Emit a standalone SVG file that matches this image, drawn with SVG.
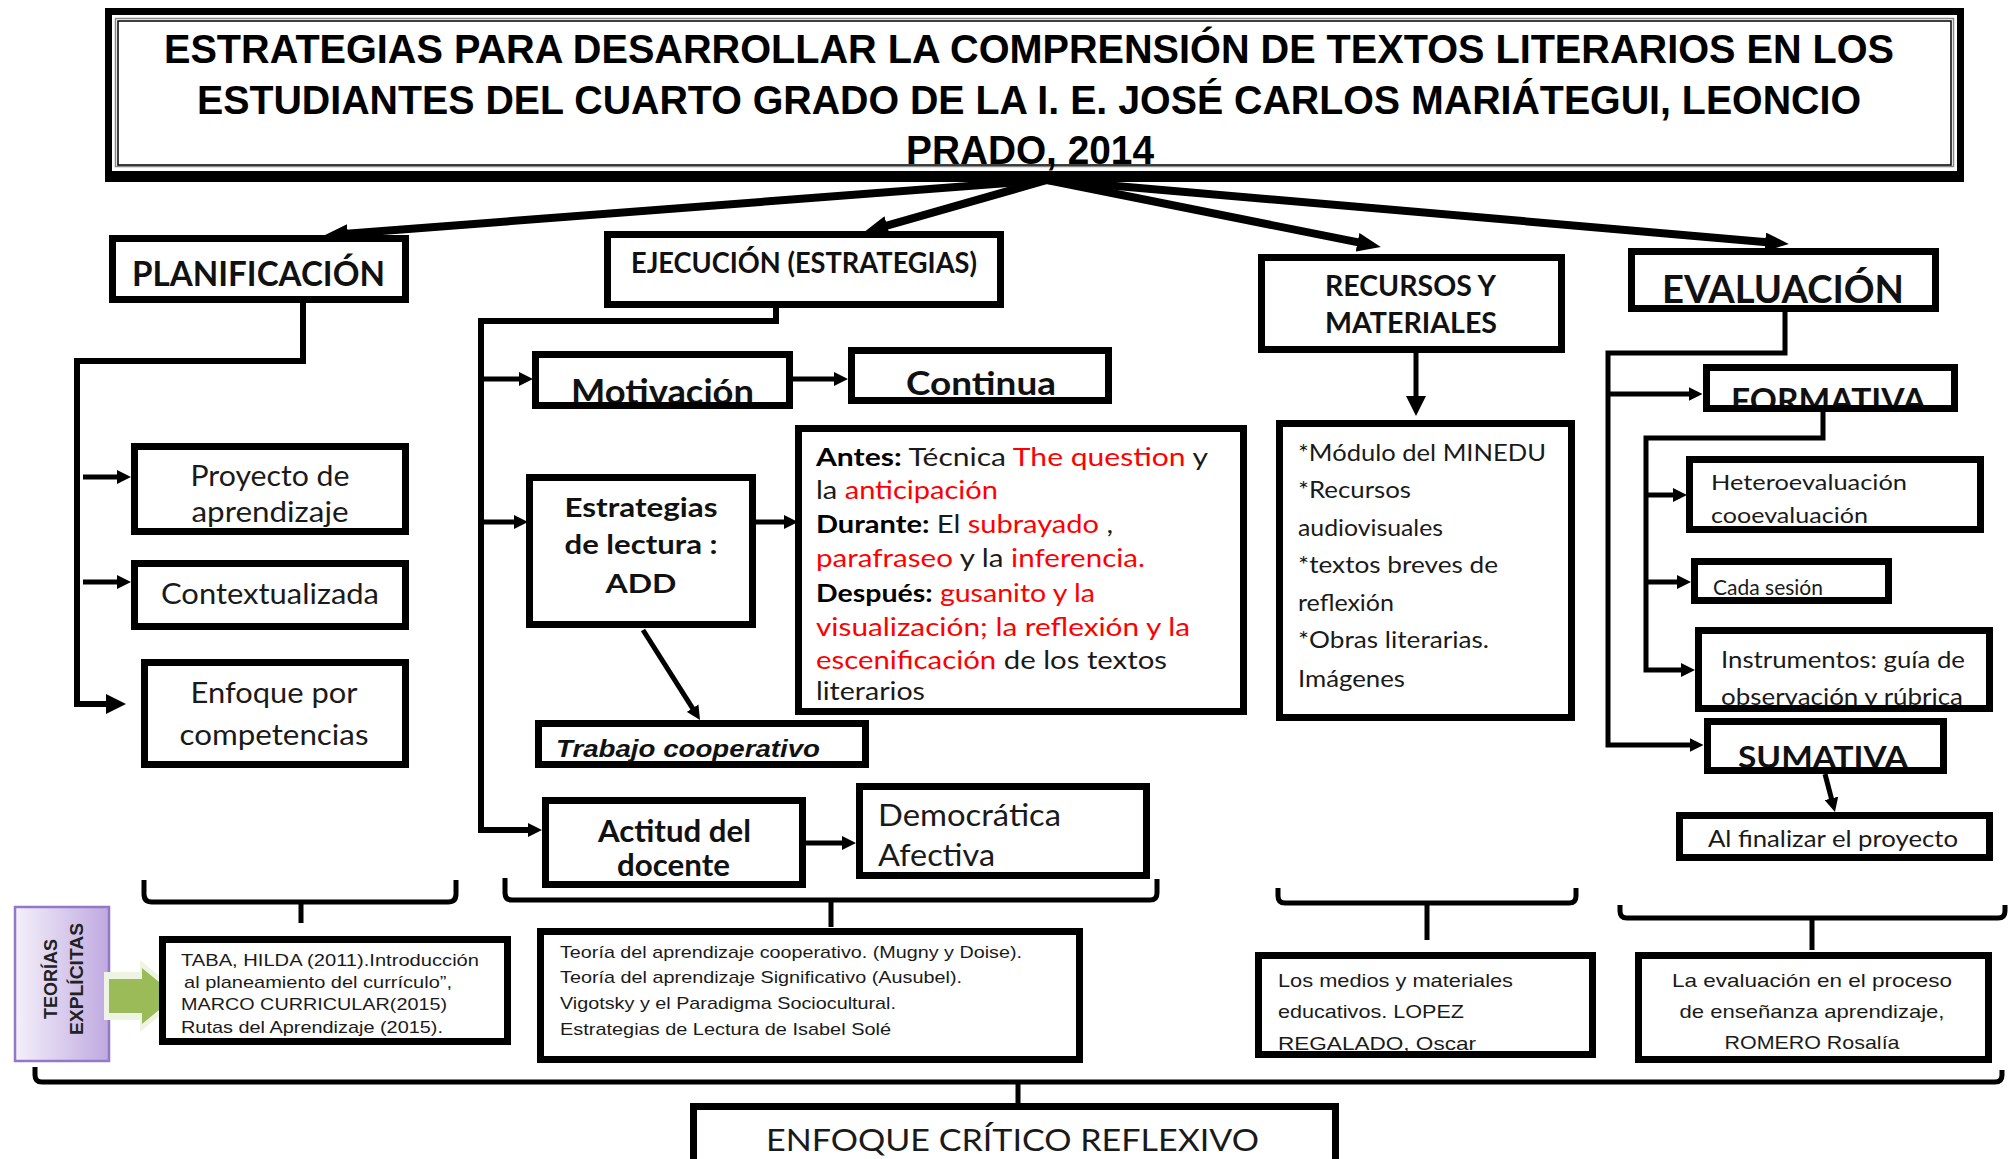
<svg xmlns="http://www.w3.org/2000/svg" width="2015" height="1159" viewBox="0 0 2015 1159">
<defs>
<style>
.bx{fill:#fff;stroke:#000;stroke-width:7}
.ol{fill:none;stroke:#000;stroke-width:7}
.ln{fill:none;stroke:#000;stroke-width:5}
.lt{fill:none;stroke:#000;stroke-width:8}
.br{fill:none;stroke:#000;stroke-width:5}
.ti{font-family:"Liberation Sans",Arial,sans-serif;font-weight:bold;font-size:40px;fill:#000}
.hb{font-family:Lato,"Open Sans",sans-serif;font-weight:bold;fill:#111}
.nr{font-family:Lato,"Open Sans",sans-serif;fill:#1a1a1a}
.sm{font-family:"Liberation Sans",Arial,sans-serif;font-size:17px;fill:#1a1a1a}
.md{font-family:"Liberation Sans",Arial,sans-serif;font-size:19px;fill:#1a1a1a}
.rd{fill:#ff0000}
.bk{font-weight:bold;fill:#000}
</style>
<marker id="ah" viewBox="0 0 12 12" refX="3" refY="6" markerWidth="14" markerHeight="14" markerUnits="userSpaceOnUse" orient="auto"><path d="M0,0 L12,6 L0,12 z"/></marker>
<marker id="ahL" viewBox="0 0 12 12" refX="3" refY="6" markerWidth="20" markerHeight="20" markerUnits="userSpaceOnUse" orient="auto"><path d="M0,0 L12,6 L0,12 z"/></marker>
<marker id="ahT" viewBox="0 0 20 16" refX="4" refY="8" markerWidth="24" markerHeight="19" markerUnits="userSpaceOnUse" orient="auto"><path d="M0,0 L20,8 L0,16 z"/></marker>
<linearGradient id="pg" x1="0" y1="0" x2="1" y2="0"><stop offset="0" stop-color="#f4f0fa"/><stop offset="1" stop-color="#bfa9e0"/></linearGradient>
</defs>

<g id="title">
<rect x="105" y="8" width="1859" height="174" fill="#000"/>
<rect x="112" y="15" width="1845" height="156" fill="#fff"/>
<rect x="115.5" y="18.5" width="1838" height="148" fill="none" stroke="#888" stroke-width="1.5"/>
<rect x="118" y="21" width="1833" height="144" fill="none" stroke="#000" stroke-width="1.5"/>
<text class="ti" x="164" y="63" textLength="1730" lengthAdjust="spacingAndGlyphs">ESTRATEGIAS PARA DESARROLLAR LA  COMPRENSIÓN DE TEXTOS LITERARIOS EN LOS</text>
<text class="ti" x="197" y="114" textLength="1664" lengthAdjust="spacingAndGlyphs">ESTUDIANTES DEL CUARTO GRADO DE LA I.  E. JOSÉ CARLOS MARIÁTEGUI, LEONCIO</text>
<text class="ti" x="906" y="164" textLength="248" lengthAdjust="spacingAndGlyphs">PRADO, 2014</text>
</g>

<g id="connectors">
<line class="lt" x1="1047" y1="180" x2="343" y2="234" marker-end="url(#ahT)"/>
<line class="lt" x1="1047" y1="180" x2="882.5" y2="226.8" marker-end="url(#ahT)"/>
<line class="lt" x1="1047" y1="180" x2="1362.2" y2="243.2" marker-end="url(#ahT)"/>
<line class="lt" x1="1047" y1="180" x2="1769.9" y2="242.4" marker-end="url(#ahT)"/>
<path d="M303,303 V361 H77 V704 H111" fill="none" stroke="#000" stroke-width="6" marker-end="url(#ahL)"/>
<path class="ln" d="M83,477 H120.5" marker-end="url(#ah)"/>
<path class="ln" d="M83,582 H120.5" marker-end="url(#ah)"/>
<path d="M776,308 V321 H481 V830 H531.5" fill="none" stroke="#000" stroke-width="6" marker-end="url(#ah)"/>
<path class="ln" d="M481,379 H522.5" marker-end="url(#ah)"/>
<path class="ln" d="M481,522 H517.5" marker-end="url(#ah)"/>
<path class="ln" d="M793,379 H837.5" marker-end="url(#ah)"/>
<path class="ln" d="M756,522 H787.5" marker-end="url(#ah)"/>
<path class="ln" d="M806,843 H845.5" marker-end="url(#ah)"/>
<line class="ln" x1="643" y1="630" x2="694.4" y2="711.1" marker-end="url(#ah)"/>
<path class="ln" d="M1416,353 V401" marker-end="url(#ahL)"/>
<path d="M1785,312 V353 H1608 V745 H1693" fill="none" stroke="#000" stroke-width="5" marker-end="url(#ah)"/>
<path class="ln" d="M1608,394 H1692" marker-end="url(#ah)"/>
<path d="M1823,412 V438 H1646 V670 H1684.5" fill="none" stroke="#000" stroke-width="5" marker-end="url(#ah)"/>
<path class="ln" d="M1646,495 H1676.5" marker-end="url(#ah)"/>
<path class="ln" d="M1646,582 H1680.5" marker-end="url(#ah)"/>
<line class="ln" x1="1825" y1="774" x2="1832.3" y2="801.8" marker-end="url(#ah)"/>
<path class="br" d="M144,880 V894 Q144,902 152,902 H448 Q456,902 456,894 V880 M301,902 V923"/>
<path class="br" d="M505,878 V893 Q505,900 512,900 H1150 Q1157,900 1157,893 V879 M831,900 V927"/>
<path class="br" d="M1278,888 V896 Q1278,903 1285,903 H1569 Q1576,903 1576,896 V888 M1427,903 V940"/>
<path class="br" d="M1620,905 V911 Q1620,918 1627,918 H1998 Q2005,918 2005,911 V905 M1812,918 V950"/>
<path class="br" d="M35,1067 V1075 Q35,1082 42,1082 H1995 Q2002,1082 2002,1075 V1070 M1018,1082 V1112"/>
</g>

<g id="planificacion">
<rect class="bx" x="112.5" y="238.5" width="293" height="61"/>
<text class="hb" x="132" y="286" font-size="34" textLength="253" lengthAdjust="spacingAndGlyphs">PLANIFICACIÓN</text>
</g>
<g id="proyecto">
<rect class="bx" x="134.5" y="446.5" width="271" height="85"/>
<text class="nr" x="190.5" y="486" font-size="29" textLength="159" lengthAdjust="spacingAndGlyphs">Proyecto de</text>
<text class="nr" x="191.5" y="522" font-size="29" textLength="157" lengthAdjust="spacingAndGlyphs">aprendizaje</text>
</g>
<g id="contextualizada">
<rect class="bx" x="134.5" y="563.5" width="271" height="63"/>
<text class="nr" x="161" y="604" font-size="29" textLength="218" lengthAdjust="spacingAndGlyphs">Contextualizada</text>
</g>
<g id="enfoque-competencias">
<rect class="bx" x="144.5" y="662.5" width="261" height="102"/>
<text class="nr" x="190.5" y="703" font-size="29" textLength="167" lengthAdjust="spacingAndGlyphs">Enfoque por</text>
<text class="nr" x="179.5" y="745" font-size="29" textLength="189" lengthAdjust="spacingAndGlyphs">competencias</text>
</g>

<g id="ejecucion">
<rect class="bx" x="607.5" y="234.5" width="393" height="70"/>
<text class="hb" x="631" y="273" font-size="28" textLength="346" lengthAdjust="spacingAndGlyphs">EJECUCIÓN (ESTRATEGIAS)</text>
</g>
<g id="motivacion">
<rect class="bx" x="535.5" y="354.5" width="254" height="51"/>
<text class="hb" x="571" y="404" font-size="35" textLength="183" lengthAdjust="spacingAndGlyphs">Motivación</text>
<line x1="532" y1="405.5" x2="793" y2="405.5" stroke="#000" stroke-width="7"/>
</g>
<g id="continua">
<rect class="bx" x="851.5" y="350.5" width="257" height="50"/>
<text class="hb" x="906" y="395" font-size="33" textLength="150" lengthAdjust="spacingAndGlyphs">Continua</text>
</g>
<g id="estrategias-lectura">
<rect class="bx" x="529.5" y="477.5" width="223" height="147"/>
<text class="hb" x="564.5" y="517" font-size="27" textLength="153" lengthAdjust="spacingAndGlyphs">Estrategias</text>
<text class="hb" x="564.5" y="554" font-size="27" textLength="153" lengthAdjust="spacingAndGlyphs">de lectura :</text>
<text class="hb" x="605.5" y="593" font-size="27" textLength="71" lengthAdjust="spacingAndGlyphs">ADD</text>
</g>
<g id="add-detalle">
<rect class="bx" x="798.5" y="428.5" width="445" height="283"/>
<text class="nr" x="816" y="466" font-size="25" textLength="392" lengthAdjust="spacingAndGlyphs"><tspan class="bk">Antes:</tspan> Técnica <tspan class="rd">The question</tspan>  y</text>
<text class="nr" x="816" y="499" font-size="25" textLength="182" lengthAdjust="spacingAndGlyphs">la <tspan class="rd">anticipación</tspan></text>
<text class="nr" x="816" y="533" font-size="25" textLength="297" lengthAdjust="spacingAndGlyphs"><tspan class="bk">Durante:</tspan> El <tspan class="rd">subrayado</tspan> ,</text>
<text class="nr" x="816" y="567" font-size="25" textLength="329" lengthAdjust="spacingAndGlyphs"><tspan class="rd">parafraseo</tspan> y la <tspan class="rd">inferencia.</tspan></text>
<text class="nr" x="816" y="602" font-size="25" textLength="279" lengthAdjust="spacingAndGlyphs"><tspan class="bk">Después:</tspan> <tspan class="rd">gusanito y la</tspan></text>
<text class="nr rd" x="816" y="636" font-size="25" textLength="374" lengthAdjust="spacingAndGlyphs">visualización; la reflexión  y la</text>
<text class="nr" x="816" y="669" font-size="25" textLength="351" lengthAdjust="spacingAndGlyphs"><tspan class="rd">escenificación</tspan> de los textos</text>
<text class="nr" x="816" y="700" font-size="25" textLength="109" lengthAdjust="spacingAndGlyphs">literarios</text>
</g>
<g id="trabajo-cooperativo">
<rect class="bx" x="538.5" y="723.5" width="327" height="41"/>
<text x="556" y="757" font-family="Liberation Sans, Arial, sans-serif" font-weight="bold" font-style="italic" font-size="23" fill="#111" textLength="264" lengthAdjust="spacingAndGlyphs">Trabajo cooperativo</text>
</g>
<g id="actitud-docente">
<rect class="bx" x="545.5" y="800.5" width="257" height="84"/>
<text class="hb" x="598" y="842" font-size="30" textLength="153" lengthAdjust="spacingAndGlyphs">Actitud del</text>
<text class="hb" x="617" y="876" font-size="30" textLength="113" lengthAdjust="spacingAndGlyphs">docente</text>
</g>
<g id="democratica">
<rect class="bx" x="859.5" y="786.5" width="287" height="89"/>
<text class="nr" x="878" y="826" font-size="31" textLength="183" lengthAdjust="spacingAndGlyphs">Democrática</text>
<text class="nr" x="878" y="866" font-size="31" textLength="117" lengthAdjust="spacingAndGlyphs">Afectiva</text>
</g>

<g id="recursos">
<rect class="bx" x="1261.5" y="257.5" width="300" height="92"/>
<text class="hb" x="1325" y="296" font-size="28" textLength="171" lengthAdjust="spacingAndGlyphs">RECURSOS Y</text>
<text class="hb" x="1325" y="333" font-size="28" textLength="172" lengthAdjust="spacingAndGlyphs">MATERIALES</text>
</g>
<g id="modulo">
<rect class="bx" x="1279.5" y="423.5" width="292" height="294"/>
<text class="nr" x="1298" y="461" font-size="23" textLength="248" lengthAdjust="spacingAndGlyphs">*Módulo del MINEDU</text>
<text class="nr" x="1298" y="498" font-size="23" textLength="113" lengthAdjust="spacingAndGlyphs">*Recursos</text>
<text class="nr" x="1298" y="536" font-size="23" textLength="145" lengthAdjust="spacingAndGlyphs">audiovisuales</text>
<text class="nr" x="1298" y="573" font-size="23" textLength="200" lengthAdjust="spacingAndGlyphs">*textos breves de</text>
<text class="nr" x="1298" y="611" font-size="23" textLength="96" lengthAdjust="spacingAndGlyphs">reflexión</text>
<text class="nr" x="1298" y="648" font-size="23" textLength="191" lengthAdjust="spacingAndGlyphs">*Obras literarias.</text>
<text class="nr" x="1298" y="687" font-size="23" textLength="107" lengthAdjust="spacingAndGlyphs">Imágenes</text>
</g>

<g id="evaluacion">
<rect class="bx" x="1631.5" y="251.5" width="304" height="57"/>
<text class="hb" x="1662" y="303" font-size="38" textLength="242" lengthAdjust="spacingAndGlyphs">EVALUACIÓN</text>
</g>
<g id="formativa">
<rect class="bx" x="1706.5" y="367.5" width="248" height="41"/>
<text class="hb" x="1731" y="412" font-size="32" textLength="195" lengthAdjust="spacingAndGlyphs">FORMATIVA</text>
<line x1="1703" y1="408.5" x2="1958" y2="408.5" stroke="#000" stroke-width="7"/>
</g>
<g id="heteroevaluacion">
<rect class="bx" x="1689.5" y="459.5" width="291" height="70"/>
<text class="nr" x="1711" y="490" font-size="22" textLength="196" lengthAdjust="spacingAndGlyphs">Heteroevaluación</text>
<text class="nr" x="1711" y="523" font-size="22" textLength="157" lengthAdjust="spacingAndGlyphs">cooevaluación</text>
</g>
<g id="cada-sesion">
<rect class="bx" x="1694.5" y="561.5" width="194" height="39"/>
<text class="nr" x="1713" y="595" font-size="21" textLength="110" lengthAdjust="spacingAndGlyphs">Cada sesión</text>
</g>
<g id="instrumentos">
<rect class="bx" x="1698.5" y="630.5" width="291" height="78"/>
<text class="nr" x="1721" y="668" font-size="23" textLength="244" lengthAdjust="spacingAndGlyphs">Instrumentos: guía de</text>
<text class="nr" x="1721" y="705" font-size="23" textLength="242" lengthAdjust="spacingAndGlyphs">observación  y rúbrica</text>
<line x1="1695" y1="708.5" x2="1993" y2="708.5" stroke="#000" stroke-width="7"/>
</g>
<g id="sumativa">
<rect class="bx" x="1707.5" y="721.5" width="236" height="49"/>
<text class="hb" x="1738" y="768" font-size="31" textLength="170" lengthAdjust="spacingAndGlyphs">SUMATIVA</text>
<line x1="1704" y1="770.5" x2="1947" y2="770.5" stroke="#000" stroke-width="7"/>
</g>
<g id="al-finalizar">
<rect class="bx" x="1679.5" y="815.5" width="310" height="42"/>
<text class="nr" x="1708" y="847" font-size="23" textLength="250" lengthAdjust="spacingAndGlyphs">Al finalizar el proyecto</text>
</g>

<g id="teorias-explicitas">
<rect x="15" y="907" width="94" height="154" fill="url(#pg)" stroke="#9278c6" stroke-width="2.5"/>
<text transform="translate(57,1019) rotate(-90)" font-family="Liberation Sans, Arial, sans-serif" font-weight="bold" font-size="19" fill="#222" textLength="80" lengthAdjust="spacingAndGlyphs">TEORÍAS</text>
<text transform="translate(83,1035) rotate(-90)" font-family="Liberation Sans, Arial, sans-serif" font-weight="bold" font-size="19" fill="#222" textLength="112" lengthAdjust="spacingAndGlyphs">EXPLÍCITAS</text>
<polygon points="104,972 140,972 140,960 184,996 140,1032 140,1020 104,1020" fill="#eef4e4"/>
<polygon points="109,979 142,979 142,968 176,996 142,1024 142,1013 109,1013" fill="#9bbb59"/>
</g>
<g id="ref-taba">
<rect class="bx" x="162.5" y="939.5" width="345" height="102"/>
<text class="sm" x="181" y="966" textLength="298" lengthAdjust="spacingAndGlyphs">TABA, HILDA (2011).Introducción</text>
<text class="sm" x="184" y="988" textLength="268" lengthAdjust="spacingAndGlyphs">al planeamiento del currículo”,</text>
<text class="sm" x="181" y="1010" textLength="266" lengthAdjust="spacingAndGlyphs">MARCO CURRICULAR(2015)</text>
<text class="sm" x="181" y="1033" textLength="262" lengthAdjust="spacingAndGlyphs">Rutas del Aprendizaje (2015).</text>
</g>
<g id="ref-teorias">
<rect class="bx" x="540.5" y="931.5" width="539" height="128"/>
<text class="sm" x="560" y="958" textLength="462" lengthAdjust="spacingAndGlyphs">Teoría del aprendizaje cooperativo. (Mugny y Doise).</text>
<text class="sm" x="560" y="983" textLength="402" lengthAdjust="spacingAndGlyphs">Teoría del aprendizaje Significativo (Ausubel).</text>
<text class="sm" x="560" y="1009" textLength="336" lengthAdjust="spacingAndGlyphs">Vigotsky y el Paradigma Sociocultural.</text>
<text class="sm" x="560" y="1035" textLength="331" lengthAdjust="spacingAndGlyphs">Estrategias de Lectura de Isabel Solé</text>
</g>
<g id="ref-medios">
<rect class="bx" x="1258.5" y="955.5" width="334" height="99"/>
<text class="md" x="1278" y="987" textLength="235" lengthAdjust="spacingAndGlyphs">Los medios  y materiales</text>
<text class="md" x="1278" y="1018" textLength="186" lengthAdjust="spacingAndGlyphs">educativos.  LOPEZ</text>
<text class="md" x="1278" y="1050" textLength="198" lengthAdjust="spacingAndGlyphs">REGALADO,  Oscar</text>
<line x1="1255" y1="1054.5" x2="1596" y2="1054.5" stroke="#000" stroke-width="7"/>
</g>
<g id="ref-evaluacion">
<rect class="bx" x="1638.5" y="955.5" width="350" height="104"/>
<text class="md" x="1672" y="987" textLength="280" lengthAdjust="spacingAndGlyphs">La evaluación  en el proceso</text>
<text class="md" x="1679.5" y="1018" textLength="265" lengthAdjust="spacingAndGlyphs">de enseñanza  aprendizaje,</text>
<text class="md" x="1724.5" y="1049" textLength="175" lengthAdjust="spacingAndGlyphs">ROMERO  Rosalía</text>
</g>
<g id="enfoque-critico">
<rect class="bx" x="693.5" y="1106.5" width="642" height="70"/>
<text class="nr" x="766" y="1151" font-size="31" fill="#111" textLength="493" lengthAdjust="spacingAndGlyphs">ENFOQUE  CRÍTICO REFLEXIVO</text>
</g>
</svg>
